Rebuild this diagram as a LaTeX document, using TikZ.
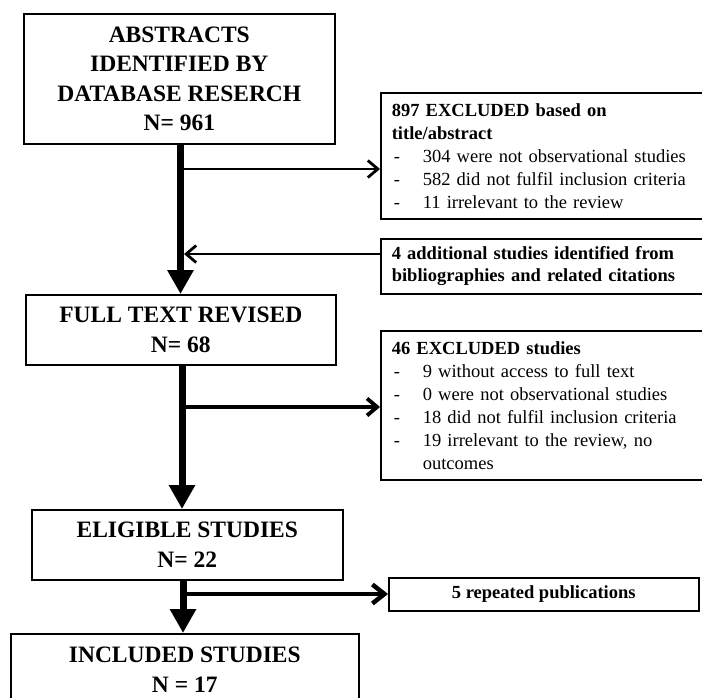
\documentclass[tikz,border=0pt]{standalone}
\usepackage{fontspec}
\setmainfont{Liberation Serif}
\usetikzlibrary{arrows.meta}
\newcommand{\dashitem}[1]{\makebox[31pt][l]{\hspace{2pt}-}#1}
\begin{document}
\begin{tikzpicture}[x=1pt,y=-1pt,
  mainbox/.style={draw,line width=1.6pt,font=\fontsize{23.5}{29.5}\selectfont\bfseries,align=center,inner sep=0pt,anchor=north west},
  sidebox/.style={draw,line width=1.6pt,font=\fontsize{18.5}{23}\selectfont,align=left,inner xsep=11pt,inner ysep=0pt,anchor=north west,minimum width=324pt,text width=302pt},
  trunk/.style={line width=7pt,-{Triangle[length=24pt,width=25pt]}},
  branch/.style={-{Straight Barb[length=10pt,width=17pt]}},
]
\useasboundingbox (0,0) rectangle (702,697);

% main column
\node[mainbox,minimum width=311pt,minimum height=130pt] (b1) at (23,13) {ABSTRACTS\\IDENTIFIED BY\\DATABASE RESERCH\\N= 961};
\node[mainbox,minimum width=310pt,minimum height=70pt] (b5) at (25,294) {FULL TEXT REVISED\\N= 68};
\node[mainbox,minimum width=311pt,minimum height=70pt] (b7) at (31,509) {ELIGIBLE STUDIES\\N= 22};
\node[mainbox,minimum width=348pt,minimum height=72pt] (b9) at (10,633) {INCLUDED STUDIES\\N = 17};

% side boxes
\node[sidebox,minimum height=126pt] (b2) at (380,92) {\textbf{897 EXCLUDED based on}\\\textbf{title/abstract}\\\dashitem{304 were not observational studies}\\\dashitem{582 did not fulfil inclusion criteria}\\\dashitem{11 irrelevant to the review}};
\node[sidebox,minimum height=55pt,font=\fontsize{18.5}{22}\selectfont\bfseries] (b3) at (380,238) {4 additional studies identified from\\bibliographies and related citations};
\node[sidebox,minimum height=149pt] (b4) at (380,330) {\textbf{46 EXCLUDED studies}\\\dashitem{9 without access to full text}\\\dashitem{0 were not observational studies}\\\dashitem{18 did not fulfil inclusion criteria}\\\dashitem{19 irrelevant to the review, no}\\\hspace*{31pt}outcomes};
\node[draw,line width=1.6pt,font=\fontsize{18.5}{22}\selectfont\bfseries,minimum width=310pt,minimum height=33pt,anchor=north west,inner sep=0pt] (b8) at (388,577) {5 repeated publications};

% junction coordinates
\coordinate (x1) at (180.5,0);
\coordinate (x2) at (182,0);
\coordinate (x3) at (183,0);
\coordinate (j1) at (180.5,169);
\coordinate (j2) at (184,254);
\coordinate (j3) at (182,407);
\coordinate (j4) at (183,594);

% branches
\draw[branch,line width=2.8pt] (j1) -- (j1 -| b2.west);
\draw[branch,line width=2.8pt] (j2 -| b3.west) -- (j2);
\draw[branch,line width=3.8pt] (j3) -- (j3 -| b4.west);
\draw[line width=4.5pt,-{Straight Barb[length=12pt,width=19pt]}] (j4) -- (j4 -| b8.west);

% trunk
\draw[trunk] (x1 |- b1.south) -- (x1 |- b5.north);
\draw[trunk] (x2 |- b5.south) -- (x2 |- b7.north);
\draw[trunk] (x3 |- b7.south) -- (x3 |- b9.north);
\end{tikzpicture}
\end{document}
